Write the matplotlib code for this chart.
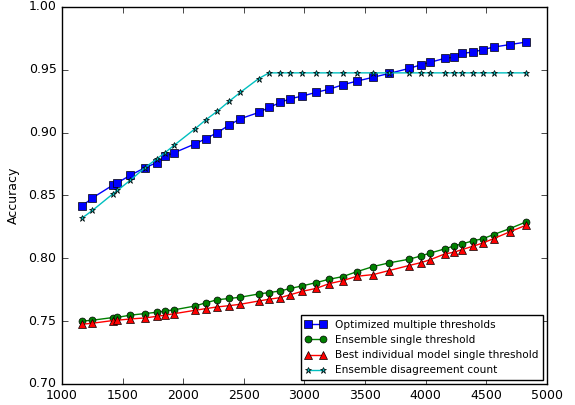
import matplotlib
matplotlib.use("Agg")
import matplotlib.pyplot as plt

plt.style.use('classic')

x = [1165, 1250, 1416, 1457, 1562, 1683, 1780, 1849, 1926, 2097, 2184, 2281,
     2380, 2471, 2623, 2708, 2802, 2884, 2981, 3096, 3204, 3316, 3435, 3567,
     3697, 3862, 3964, 4039, 4157, 4234, 4300, 4388, 4474, 4560, 4694, 4829]

optimized = [0.8416, 0.848, 0.858, 0.860, 0.866, 0.872, 0.876, 0.881, 0.884, 0.891,
             0.895, 0.900, 0.906, 0.911, 0.916, 0.920, 0.924, 0.927, 0.929, 0.932,
             0.9345, 0.938, 0.941, 0.944, 0.947, 0.951, 0.954, 0.956, 0.959, 0.960,
             0.963, 0.964, 0.966, 0.968, 0.970, 0.972]

ensemble_single = [0.750, 0.7507, 0.7528, 0.753, 0.7547, 0.756, 0.757, 0.758, 0.759,
                   0.762, 0.7645, 0.767, 0.768, 0.769, 0.7716, 0.7727, 0.774, 0.776,
                   0.778, 0.7806, 0.7833, 0.7854, 0.7894, 0.7934, 0.7963, 0.7992,
                   0.8019, 0.8042, 0.8074, 0.8098, 0.8114, 0.8138, 0.8156, 0.8188,
                   0.8236, 0.8289]

best_individual = [0.7475, 0.7483, 0.7504, 0.7507, 0.7517, 0.7525, 0.7538, 0.7547,
                   0.7559, 0.7586, 0.7599, 0.7613, 0.7623, 0.7634, 0.766, 0.7674,
                   0.7687, 0.771, 0.7737, 0.776, 0.7798, 0.7822, 0.7857, 0.787,
                   0.7902, 0.7942, 0.7966, 0.7989, 0.8034, 0.8048, 0.8069, 0.8095,
                   0.8122, 0.8156, 0.821, 0.8263]

disagreement = [0.832, 0.838, 0.851, 0.854, 0.862, 0.872, 0.879, 0.884, 0.890, 0.903,
                0.910, 0.917, 0.925, 0.932, 0.943] + [0.9475] * 21

fig = plt.figure(figsize=(5.75, 4.05), dpi=100, facecolor='white')
ax = fig.add_axes([0.108, 0.052, 0.843, 0.931])

ax.plot(x, optimized, 'b-s', markersize=5.5, linewidth=1, label='Optimized multiple thresholds')
ax.plot(x, ensemble_single, 'g-o', markersize=5, linewidth=1, label='Ensemble single threshold')
ax.plot(x, best_individual, 'r-^', markersize=5.5, linewidth=1, label='Best individual model single threshold')
ax.plot(x, disagreement, 'c-*', markersize=5, linewidth=1, label='Ensemble disagreement count')

ax.set_xlim(1000, 5000)
ax.set_ylim(0.70, 1.00)
ax.set_xticks([1000, 1500, 2000, 2500, 3000, 3500, 4000, 4500, 5000])
ax.set_yticks([0.70, 0.75, 0.80, 0.85, 0.90, 0.95, 1.00])
ax.set_yticklabels(['0.70', '0.75', '0.80', '0.85', '0.90', '0.95', '1.00'])
ax.tick_params(labelsize=9)
ax.set_ylabel('Accuracy', fontsize=9, labelpad=6)

ax.legend(loc='lower right', fontsize=7.6, numpoints=2, borderaxespad=0.4)

fig.savefig('out.png', dpi=100, facecolor='white')
